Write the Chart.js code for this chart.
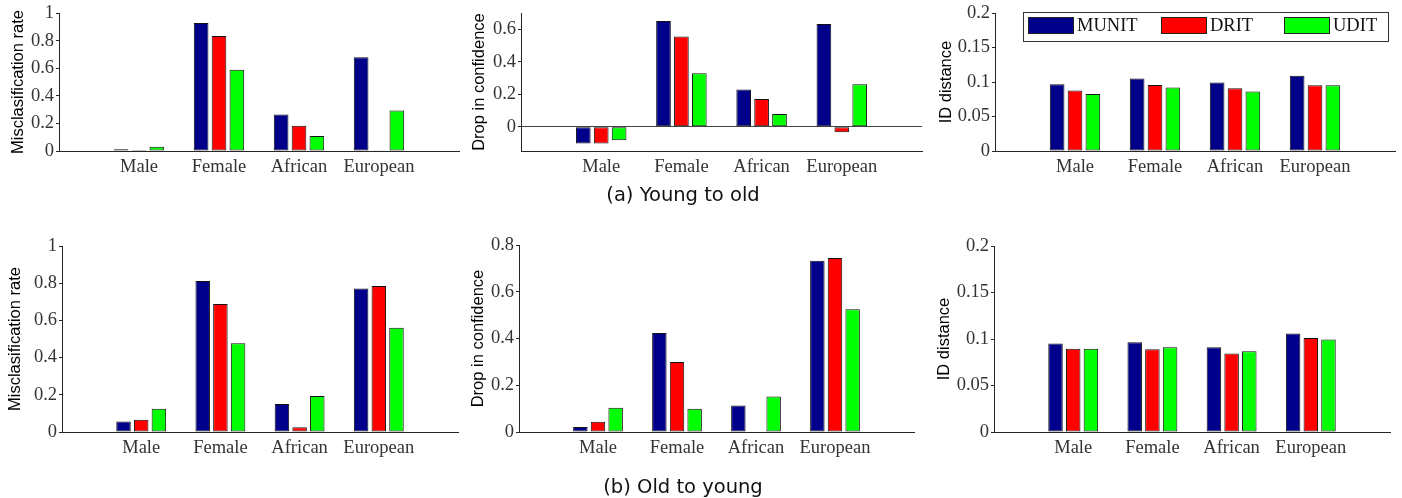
<!DOCTYPE html>
<html>
<head>
<meta charset="utf-8">
<script src="https://cdn.jsdelivr.net/npm/chart.js@4.4.0/dist/chart.umd.min.js"></script>
<style>
  body { margin: 0; background: #fff; width: 1402px; height: 498px; position: relative; overflow: hidden; }
  canvas { position: absolute; }
  .caption { position: absolute; left: 433px; width: 500px; text-align: center;
             font-family: "DejaVu Sans"; font-size: 19.5px; color: #111; line-height: 22px; }
</style>
</head>
<body>
<canvas id="c1" width="470" height="190" style="left:0;top:0"></canvas>
<canvas id="c2" width="470" height="190" style="left:460px;top:0"></canvas>
<canvas id="c3" width="477" height="190" style="left:925px;top:0"></canvas>
<canvas id="c4" width="470" height="240" style="left:0;top:230px"></canvas>
<canvas id="c5" width="470" height="240" style="left:460px;top:230px"></canvas>
<canvas id="c6" width="477" height="240" style="left:925px;top:230px"></canvas>
<div class="caption" style="top:184px">(a) Young to old</div>
<div class="caption" style="top:476px">(b) Old to young</div>
<script>
var categories = ["Male", "Female", "African", "European"];
var methods = ["MUNIT", "DRIT", "UDIT"];
var colors = ["#00008b", "#ff0000", "#00ff00"];

// rows: MUNIT, DRIT, UDIT
// (a) young to old
var misYoungOld = [
	[0.012, 0.928, 0.264, 0.680],
	[0.008, 0.834, 0.183, 0.002],
	[0.030, 0.589, 0.108, 0.293]
];
var dropYoungOld = [
	[-0.104, 0.651, 0.229, 0.633],
	[-0.104, 0.555, 0.171, -0.035],
	[-0.084, 0.329, 0.078, 0.261]
];
var idYoungOld = [
	[0.0969, 0.1051, 0.0993, 0.1090],
	[0.0877, 0.0959, 0.0910, 0.0954],
	[0.0828, 0.0920, 0.0862, 0.0954]
];
// (b) old to young
var misOldYoung = [
	[0.056, 0.812, 0.151, 0.772],
	[0.066, 0.688, 0.025, 0.785],
	[0.125, 0.477, 0.194, 0.561]
];
var dropOldYoung = [
	[0.021, 0.424, 0.113, 0.733],
	[0.044, 0.300, 0.000, 0.744],
	[0.104, 0.099, 0.152, 0.525]
];
var idOldYoung = [
	[0.0952, 0.0966, 0.0912, 0.1060],
	[0.0894, 0.0890, 0.0844, 0.1010],
	[0.0894, 0.0912, 0.0869, 0.0995]
];

var ticksMis = [0, 0.2, 0.4, 0.6, 0.8, 1];
var ticksDropA = [0, 0.2, 0.4, 0.6];
var ticksDropB = [0, 0.2, 0.4, 0.6, 0.8];
var ticksId = [0, 0.05, 0.1, 0.15, 0.2];

var serif = "'Liberation Serif', 'DejaVu Serif', serif";
var axisColor = "#262626";
var tickColor = "#333333";

// legend drawn inside the axes, with a box round it (like matlab)
var boxLegend = {
	id: "boxLegend",
	afterDraw: function (chart) {
		var c = chart.ctx, a = chart.chartArea;
		var x0 = Math.round(a.left + 28), y0 = Math.round(a.top - 1), w = 365, h = 29;
		var offs = [5, 137.7, 261];
		c.save();
		c.fillStyle = "#fff";
		c.fillRect(x0, y0, w, h);
		c.strokeStyle = "#333";
		c.lineWidth = 1;
		c.strokeRect(x0 + 0.5, y0 + 0.5, w, h);
		c.font = "18.5px " + serif;
		c.textBaseline = "middle";
		chart.data.datasets.forEach(function (ds, i) {
			var sx = Math.round(x0 + offs[i]), sy = y0 + 5;
			c.fillStyle = ds.backgroundColor;
			c.fillRect(sx, sy, 46, 17);
			c.strokeStyle = "#222";
			c.strokeRect(sx + 0.5, sy + 0.5, 45, 16);
			c.fillStyle = "#111";
			c.fillText(ds.label, sx + 49, sy + 9.5);
		});
		c.restore();
	}
};

function makeChart(id, series, yMin, yMax, yTicks, yTitle, g, zeroLine, legend) {
	var datasets = series.map(function (vals, i) {
		return {
			label: methods[i],
			data: [null].concat(vals, [null]),
			backgroundColor: colors[i],
			borderColor: "#111",
			borderWidth: 1,
			borderSkipped: false,
			categoryPercentage: 0.67,
			barPercentage: 0.82
		};
	});
	return new Chart(document.getElementById(id), {
		type: "bar",
		data: { labels: [""].concat(categories, [""]), datasets: datasets },
		options: {
			responsive: false,
			animation: false,
			layout: { padding: { left: 0, top: g.top, right: g.right, bottom: 0 } },
			plugins: { legend: { display: false }, tooltip: { enabled: false } },
			scales: {
				x: {
					type: "category",
					offset: false,
					grid: { display: false, drawTicks: false },
					border: { display: true, color: axisColor, width: 1 },
					ticks: { font: { family: serif, size: 18.5 }, color: tickColor, padding: 5, autoSkip: false, maxRotation: 0 },
					afterFit: function (s) { s.height = g.xh; }
				},
				y: {
					min: yMin,
					max: yMax,
					grid: {
						color: function (ctx) {
							return (zeroLine && ctx.tick && ctx.tick.value === 0) ? "#444" : "rgba(0,0,0,0)";
						},
						drawTicks: true,
						tickLength: 3,
						tickColor: axisColor
					},
					border: { display: true, color: axisColor, width: 1 },
					ticks: {
						font: { family: serif, size: 18.5 },
						color: tickColor,
						padding: 2,
						callback: function (v) { return String(v); }
					},
					afterBuildTicks: function (s) {
						s.ticks = yTicks.map(function (v) { return { value: v }; });
					},
					title: {
						display: true,
						text: yTitle,
						color: "#000",
						font: { family: "'Liberation Sans', Arial, sans-serif", size: 16.5 },
						padding: { top: g.tp, bottom: 0 }
					},
					afterFit: function (s) { s.width = g.left; }
				}
			}
		},
		plugins: legend ? [boxLegend] : []
	});
}

makeChart("c1", misYoungOld, 0, 1, ticksMis, "Misclasification rate",
	{ left: 59, top: 12, right: 11, xh: 39, tp: 8.4 }, false, false);
makeChart("c2", dropYoungOld, -0.15, 0.7, ticksDropA, "Drop in confidence",
	{ left: 61, top: 12, right: 8, xh: 39, tp: 9.4 }, true, false);
makeChart("c3", idYoungOld, 0, 0.2, ticksId, "ID distance",
	{ left: 70, top: 13, right: 7, xh: 39, tp: 11.1 }, false, true);
makeChart("c4", misOldYoung, 0, 1, ticksMis, "Misclasification rate",
	{ left: 62, top: 16, right: 12, xh: 38, tp: 5.6 }, false, false);
makeChart("c5", dropOldYoung, 0, 0.8, ticksDropB, "Drop in confidence",
	{ left: 59, top: 15, right: 16, xh: 38, tp: 8.4 }, false, false);
makeChart("c6", idOldYoung, 0, 0.2, ticksId, "ID distance",
	{ left: 69, top: 16, right: 12, xh: 38, tp: 9.8 }, false, false);
</script>
</body>
</html>
